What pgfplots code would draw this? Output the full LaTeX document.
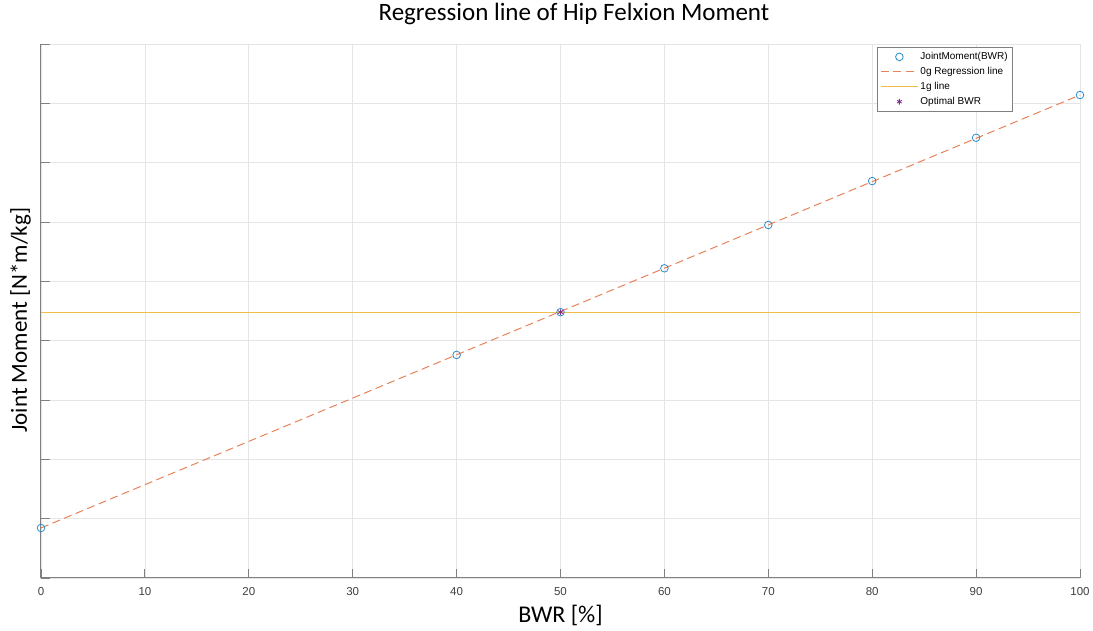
\documentclass[border=0pt]{standalone}
\usepackage{pgfplots}
\pgfplotsset{compat=1.18}
\usepackage{fontspec}
\setmainfont{Carlito}
\newfontfamily\arial{Liberation Sans}
\definecolor{mblue}{RGB}{40,140,205}
\definecolor{morange}{RGB}{232,130,90}
\definecolor{myellow}{RGB}{240,190,70}
\definecolor{mpurple}{rgb}{0.494,0.184,0.556}
\definecolor{axgray}{RGB}{128,128,128}
\pgfplotsset{
  linelegend/.style={legend image code/.code={\draw[##1] (0cm,0cm) -- (1.3cm,0cm);}},
  marklegend/.style={legend image code/.code={\draw[mark repeat=2,mark phase=2,##1] plot coordinates {(0cm,0cm) (0.65cm,0cm) (1.3cm,0cm)};}},
}
\begin{document}
\begin{tikzpicture}
\useasboundingbox (-41pt,-53pt) rectangle (1052pt,578pt);
\begin{axis}[
  at={(0,0)}, anchor=south west,
  scale only axis, width=1039pt, height=534pt,
  xmin=0, xmax=100, ymin=0, ymax=9,
  axis lines*=left,
  axis line style={-, draw=axgray, line width=1pt},
  xtick={0,10,...,100}, ytick={0,1,...,9},
  yticklabels={},
  tick align=inside,
  major tick length=9pt,
  tick style={draw=axgray, line width=0.9pt},
  grid=major,
  major grid style={draw=black!10, line width=0.7pt},
  /pgf/number format/assume math mode=true,
  ticklabel style={font=\arial\fontsize{11.5}{13}\selectfont, text=black!75},
  xticklabel style={anchor=base, yshift=-17.5pt},
  title={Regression line of Hip Felxion Moment},
  title style={font=\fontsize{25}{30}\selectfont, at={(rel axis cs:0.513,1)}, anchor=base, yshift=17pt},
  xlabel={BWR [\%]},
  xlabel style={font=\fontsize{24}{28}\selectfont, at={(rel axis cs:0.5,0)}, anchor=base, yshift=-45pt},
  ylabel={Joint Moment [N*m/kg]},
  ylabel style={font=\fontsize{23}{27}\selectfont, at={(rel axis cs:0,0.483)}, anchor=base, yshift=14pt},
  legend style={at={(rel axis cs:0.9355,0.994)}, anchor=north east,
    font=\arial\fontsize{10}{11}\selectfont, draw=axgray, line width=0.6pt,
    row sep=2.2pt, inner sep=3pt, cells={anchor=west}},
  legend cell align=left,
  clip=false,
]
\addplot[only marks, mark=o, mark size=3.8pt, draw=mblue, line width=0.8pt, marklegend]
  coordinates {(0,0.843) (40,3.76) (50,4.48) (60,5.22) (70,5.95) (80,6.69) (90,7.42) (100,8.14)};
\addlegendentry{JointMoment(BWR)}
\addplot[draw=morange, dashed, dash pattern=on 8pt off 4.5pt, line width=1pt, linelegend]
  coordinates {(0,0.843) (100,8.14)};
\addlegendentry{0g Regression line}
\addplot[draw=myellow, line width=1.1pt, linelegend]
  coordinates {(0,4.48) (100,4.48)};
\addlegendentry{1g line}
\addplot[only marks, mark=asterisk, mark size=2.8pt, draw=mpurple, line width=0.8pt, marklegend]
  coordinates {(50,4.48)};
\addlegendentry{Optimal BWR}
\end{axis}
\end{tikzpicture}
\end{document}
